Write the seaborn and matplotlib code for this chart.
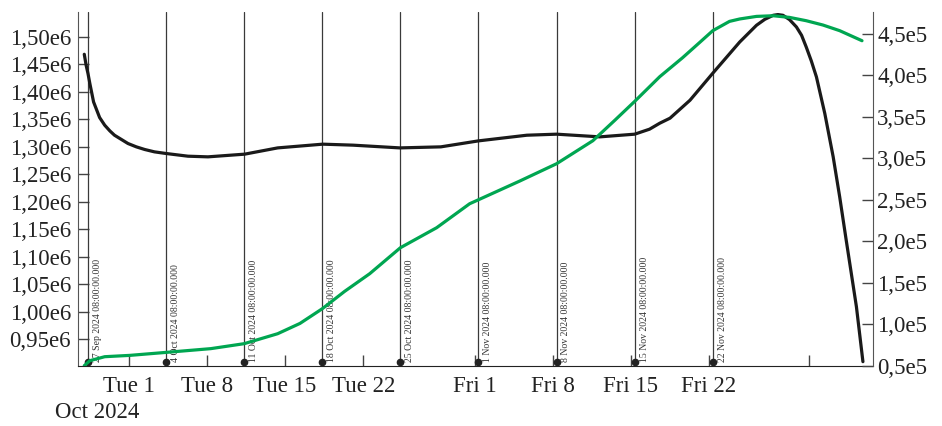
import matplotlib
matplotlib.use("Agg")
import matplotlib.pyplot as plt
import matplotlib.transforms as mtransforms
from matplotlib.ticker import FuncFormatter, FixedLocator
import pandas as pd
import seaborn as sns

# --- data -------------------------------------------------------------
black_dates = [
    "2024-09-27 00:00", "2024-09-27 04:00", "2024-09-27 08:00", "2024-09-27 12:00",
    "2024-09-27 20:00", "2024-09-28 09:00", "2024-09-28 20:00", "2024-09-29 07:00",
    "2024-09-29 17:00", "2024-09-30 08:00", "2024-09-30 22:00", "2024-10-01 16:00",
    "2024-10-02 10:00", "2024-10-03 07:00", "2024-10-04 08:00", "2024-10-06 07:00",
    "2024-10-08 02:00", "2024-10-11 09:00", "2024-10-14 08:00", "2024-10-18 09:00",
    "2024-10-21 02:00", "2024-10-25 07:00", "2024-10-28 23:00", "2024-11-01 08:00",
    "2024-11-05 16:00", "2024-11-08 08:00", "2024-11-12 05:00", "2024-11-15 08:00",
    "2024-11-16 16:00", "2024-11-17 14:00", "2024-11-18 12:00", "2024-11-20 07:00",
    "2024-11-22 08:00", "2024-11-24 18:00", "2024-11-26 06:00", "2024-11-27 00:00",
    "2024-11-27 18:00", "2024-11-28 04:00", "2024-11-28 15:00", "2024-11-29 05:00",
    "2024-11-29 20:00", "2024-11-30 07:00", "2024-11-30 17:00", "2024-12-01 04:00",
    "2024-12-01 15:00", "2024-12-02 00:00", "2024-12-02 09:00", "2024-12-02 18:00",
    "2024-12-03 03:00", "2024-12-03 10:00", "2024-12-03 17:00", "2024-12-04 07:00",
    "2024-12-05 05:00", "2024-12-05 19:00",
]
black_values = [
    1.4685e6, 1.4485e6, 1.4334e6, 1.4152e6,
    1.3817e6, 1.3533e6, 1.3393e6, 1.3290e6,
    1.3211e6, 1.3133e6, 1.3060e6, 1.2999e6,
    1.2951e6, 1.2908e6, 1.2878e6, 1.2829e6,
    1.2817e6, 1.2866e6, 1.2980e6, 1.3048e6,
    1.3030e6, 1.2980e6, 1.2999e6, 1.3108e6,
    1.3211e6, 1.3230e6, 1.3181e6, 1.3230e6,
    1.3321e6, 1.3430e6, 1.3521e6, 1.3848e6,
    1.4340e6, 1.4909e6, 1.5213e6, 1.5322e6,
    1.5395e6, 1.5408e6, 1.5395e6, 1.5317e6,
    1.5182e6, 1.5031e6, 1.4818e6, 1.4563e6,
    1.4272e6, 1.3939e6, 1.3606e6, 1.3211e6,
    1.2817e6, 1.2453e6, 1.2089e6, 1.1301e6,
    1.0087e6, 0.9087e6,
]

green_dates = [
    "2024-09-27 00:00", "2024-09-27 12:00", "2024-09-28 20:00", "2024-10-01 02:00",
    "2024-10-04 08:00", "2024-10-08 08:00", "2024-10-11 08:00", "2024-10-14 08:00",
    "2024-10-16 08:00", "2024-10-18 08:00", "2024-10-20 08:00", "2024-10-22 14:00",
    "2024-10-25 08:00", "2024-10-28 14:00", "2024-10-31 13:00", "2024-11-01 08:00",
    "2024-11-05 01:00", "2024-11-08 08:00", "2024-11-11 14:00", "2024-11-13 13:00",
    "2024-11-15 08:00", "2024-11-17 14:00", "2024-11-19 15:00", "2024-11-21 04:00",
    "2024-11-22 08:00", "2024-11-23 20:00", "2024-11-24 18:00", "2024-11-26 06:00",
    "2024-11-27 18:00", "2024-11-29 05:00", "2024-11-30 17:00", "2024-12-02 05:00",
    "2024-12-03 17:00", "2024-12-05 17:00",
]
green_values = [
    0.504e5, 0.564e5, 0.612e5, 0.628e5,
    0.664e5, 0.709e5, 0.769e5, 0.889e5,
    1.013e5, 1.190e5, 1.399e5, 1.612e5,
    1.925e5, 2.166e5, 2.455e5, 2.503e5,
    2.729e5, 2.937e5, 3.214e5, 3.459e5,
    3.688e5, 3.986e5, 4.214e5, 4.399e5,
    4.540e5, 4.652e5, 4.681e5, 4.712e5,
    4.720e5, 4.700e5, 4.660e5, 4.608e5,
    4.540e5, 4.419e5,
]

marker_dates = [
    "2024-09-27 08:00", "2024-10-04 08:00", "2024-10-11 08:00", "2024-10-18 08:00",
    "2024-10-25 08:00", "2024-11-01 08:00", "2024-11-08 08:00", "2024-11-15 08:00",
    "2024-11-22 08:00",
]
marker_labels = [
    "27 Sep 2024 08:00:00.000", "4 Oct 2024 08:00:00.000", "11 Oct 2024 08:00:00.000",
    "18 Oct 2024 08:00:00.000", "25 Oct 2024 08:00:00.000", "1 Nov 2024 08:00:00.000",
    "8 Nov 2024 08:00:00.000", "15 Nov 2024 08:00:00.000", "22 Nov 2024 08:00:00.000",
]

xtick_dates = [
    "2024-10-01", "2024-10-08", "2024-10-15", "2024-10-22", "2024-11-01",
    "2024-11-08", "2024-11-15", "2024-11-22", "2024-12-01",
]
xtick_labels = ["Tue 1", "Tue 8", "Tue 15", "Tue 22", "Fri 1", "Fri 8", "Fri 15", "Fri 22", ""]

left_ticks = [0.95e6, 1.00e6, 1.05e6, 1.10e6, 1.15e6, 1.20e6, 1.25e6,
              1.30e6, 1.35e6, 1.40e6, 1.45e6, 1.50e6]
right_ticks = [0.5e5, 1.0e5, 1.5e5, 2.0e5, 2.5e5, 3.0e5, 3.5e5, 4.0e5, 4.5e5]

# --- style ------------------------------------------------------------
sns.set_style("ticks")
plt.rcParams["font.family"] = ["Liberation Serif", "DejaVu Serif"]
plt.rcParams["axes.edgecolor"] = "#555555"

black_df = pd.DataFrame({"date": pd.to_datetime(black_dates), "value": black_values})
green_df = pd.DataFrame({"date": pd.to_datetime(green_dates), "value": green_values})

fig = plt.figure(figsize=(9.42, 4.26), dpi=100)
ax = fig.add_axes([78 / 942, 1 - 366 / 426, (873 - 78) / 942, (366 - 12) / 426])

# vertical reference lines with their date stamps
for d, lab in zip(pd.to_datetime(marker_dates), marker_labels):
    ax.axvline(d, color="#3a3a3a", lw=0.9, zorder=1)
    ax.plot([d], [0.012], transform=ax.get_xaxis_transform(), marker="o",
            ms=4.5, color="#222222", zorder=3, clip_on=False)
    tr = mtransforms.offset_copy(ax.get_xaxis_transform(), fig=fig, x=3.5, y=0, units="points")
    ax.text(d, 0.012, lab, transform=tr, rotation=90, ha="left", va="bottom",
            fontsize=7, color="#333333", zorder=3)

sns.lineplot(data=black_df, x="date", y="value", ax=ax, color="#1a1a1a",
             lw=2.3, zorder=4, legend=False)

ax2 = ax.twinx()
sns.lineplot(data=green_df, x="date", y="value", ax=ax2, color="#00a651",
             lw=2.3, zorder=4, legend=False)

xmin = pd.Timestamp("2024-09-26 10:30")
xmax = pd.Timestamp("2024-12-06 16:40")
ax.set_xlim(xmin, xmax)
ax.set_ylim(0.9008e6, 1.5455e6)
ax2.set_ylim(0.5e5, 4.765e5)

ax.set_xticks(pd.to_datetime(xtick_dates))
ax.set_xticklabels(xtick_labels)
ax.yaxis.set_major_locator(FixedLocator(left_ticks))
ax2.yaxis.set_major_locator(FixedLocator(right_ticks))
ax.yaxis.set_major_formatter(FuncFormatter(lambda v, p: f"{v / 1e6:.2f}".replace(".", ",") + "e6"))
ax2.yaxis.set_major_formatter(FuncFormatter(lambda v, p: f"{v / 1e5:.1f}".replace(".", ",") + "e5"))

for a in (ax, ax2):
    a.set_xlabel("")
    a.set_ylabel("")
    a.spines["top"].set_visible(False)
    a.tick_params(direction="in", length=8, width=1, colors="#444444",
                  labelcolor="#222222", labelsize=16.5)
ax.spines["bottom"].set_color("#222222")
ax.spines["right"].set_visible(False)
ax2.spines["left"].set_visible(False)
ax2.spines["bottom"].set_visible(False)
ax.tick_params(axis="x", pad=7)
ax.tick_params(axis="y", pad=5)
ax2.tick_params(axis="y", pad=3)

fig.text(55 / 942, 1 - 413 / 426, "Oct 2024", fontsize=16.5, color="#222222",
         ha="left", va="center")

fig.savefig("out.png", dpi=100)
